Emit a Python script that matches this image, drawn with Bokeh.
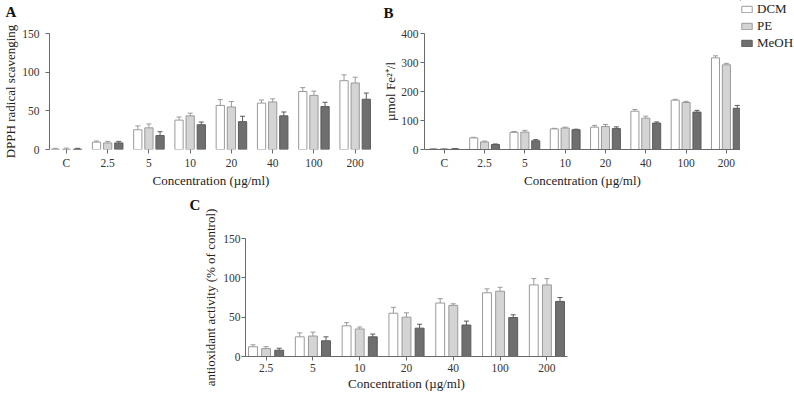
from bokeh.plotting import figure
from bokeh.layouts import column, row
from bokeh.models import (Range1d, FixedTicker, Whisker, ColumnDataSource, Legend,
                          LegendItem, Spacer, TeeHead)
from bokeh.core.properties import value
from bokeh.embed import file_html
from bokeh.resources import INLINE

# ---- data -------------------------------------------------------------
series = ["DCM", "PE", "MeOH"]

conc_ab = ["C", "2.5", "5", "10", "20", "40", "100", "200"]
conc_c = ["2.5", "5", "10", "20", "40", "100", "200"]

# A: DPPH radical scavenging
dpph_dcm = [0.5, 9.5, 25.5, 38, 57, 60, 75, 89]
dpph_pe = [0.3, 8.5, 28, 43.5, 55, 61.5, 70, 86]
dpph_meoh = [0.5, 8.5, 18, 32, 36, 43.5, 55.5, 65]
dpph_dcm_err = [1, 1.5, 5, 4, 7.5, 4, 5, 7.5]
dpph_pe_err = [1.5, 2, 5, 3.5, 7, 4, 5.5, 7.5]
dpph_meoh_err = [1, 2, 5, 3.5, 7, 5, 5.5, 8]

# B: reducing power, µmol Fe2+/l
fe_dcm = [2, 40, 59, 71, 77, 132, 170, 316]
fe_pe = [2, 26, 60, 74, 79, 108, 162, 292]
fe_meoh = [2, 17, 30, 68, 72, 91, 129, 142]
fe_dcm_err = [1, 2, 3, 2, 6, 6, 3, 7]
fe_pe_err = [1, 3, 6, 3, 7, 7, 4, 5]
fe_meoh_err = [1, 2, 4, 2, 6, 4, 6, 10]

# C: antioxidant activity (% of control)
act_dcm = [12.4, 25, 39, 55, 68, 81, 91]
act_pe = [10, 26, 35, 50, 65, 83, 91]
act_meoh = [8, 20, 25, 36, 40, 49.5, 70]
act_dcm_err = [2.5, 5, 4, 7.5, 5.5, 5, 8]
act_pe_err = [2.5, 5, 2.5, 5.5, 2, 5, 8]
act_meoh_err = [2.5, 5, 3.5, 5, 5, 3.5, 5]

# ---- styling ----------------------------------------------------------
FONT = "Liberation Serif"
FILLS = ["#ffffff", "#d4d4d4", "#6f6f6f"]
LINES = ["#9a9a9a", "#9a9a9a", "#5a5a5a"]
AXIS_COLOR = "#6a6a6a"


def bare(width, height):
    """A canvas with no axes whose data units are pixels (y grows downwards)."""
    p = figure(width=width, height=height, output_backend="svg", toolbar_location=None,
               x_range=Range1d(0, width), y_range=Range1d(height, 0),
               x_axis_location=None, y_axis_location=None,
               min_border_left=0, min_border_right=0, min_border_top=0,
               min_border_bottom=0, frame_align=False)
    p.outline_line_color = None
    p.grid.visible = False
    p.background_fill_color = None
    p.border_fill_color = None
    return p


def letter_strip(width, height, letter, x, y):
    p = bare(width, height)
    p.text(x=[x], y=[y], text=[letter], text_font=value(FONT), text_font_size="15px",
           text_font_style="bold", text_color="#111111", text_baseline="middle",
           text_align="left")
    return p


def panel(cats, data, errs, ymax, yticks, ylabel, width, height, borders,
          x_pad, offset, bar_w, y_standoffs, xaxis_line=True):
    left, right, top, bottom = borders
    n = len(cats)
    p = figure(width=width, height=height, output_backend="svg", toolbar_location=None,
               x_range=Range1d(-x_pad[0], n - 1 + x_pad[1]), y_range=Range1d(0, ymax),
               min_border_left=left, min_border_right=right,
               min_border_top=top, min_border_bottom=bottom, frame_align=False)
    p.outline_line_color = None
    p.grid.visible = False
    p.background_fill_color = None
    p.border_fill_color = None

    xs = list(range(n))
    for k, (vals, ev) in enumerate(zip(data, errs)):
        pos = [x + (k - 1) * offset for x in xs]
        src = ColumnDataSource(dict(x=pos, top=vals, up=[v + e for v, e in zip(vals, ev)]))
        p.vbar(x="x", top="top", width=bar_w, source=src, fill_color=FILLS[k],
               line_color=LINES[k], line_width=1)
        w = Whisker(base="x", lower="top", upper="up", source=src, dimension="height",
                    line_color=LINES[k], line_width=1,
                    upper_head=TeeHead(size=5, line_color=LINES[k], line_width=1),
                    lower_head=None)
        p.add_layout(w)

    for ax in (p.xaxis[0], p.yaxis[0]):
        ax.axis_line_color = AXIS_COLOR
        ax.major_tick_line_color = AXIS_COLOR
        ax.major_tick_out = 4
        ax.major_tick_in = 0
        ax.minor_tick_line_color = None
        ax.major_label_text_font = FONT
        ax.major_label_text_font_size = "11.5px"
        ax.major_label_text_color = "#333333"
        ax.axis_label_text_font = FONT
        ax.axis_label_text_font_size = "13px"
        ax.axis_label_text_font_style = "normal"
        ax.axis_label_text_color = "#222222"

    xa = p.xaxis[0]
    xa.ticker = FixedTicker(ticks=xs)
    xa.major_label_overrides = {i: c for i, c in enumerate(cats)}
    xa.major_label_standoff = 3
    xa.axis_label = "Concentration (µg/ml)"
    xa.axis_label_standoff = 1
    if not xaxis_line:
        xa.axis_line_color = None

    ya = p.yaxis[0]
    ya.ticker = FixedTicker(ticks=yticks)
    ya.axis_label = ylabel
    ya.major_label_standoff = y_standoffs[0]
    ya.axis_label_standoff = y_standoffs[1]
    return p


pA = panel(conc_ab, [dpph_dcm, dpph_pe, dpph_meoh],
           [dpph_dcm_err, dpph_pe_err, dpph_meoh_err],
           150, [0, 50, 100, 150], "DPPH radical scavenging",
           380, 170, (49, 8, 13, 40), (0.41, 0.42), 0.27, 0.2,
           (6, 1), xaxis_line=False)

pB = panel(conc_ab, [fe_dcm, fe_pe, fe_meoh],
           [fe_dcm_err, fe_pe_err, fe_meoh_err],
           400, [0, 100, 200, 300, 400], "µmol Fe²⁺/l",
           360, 170, (43, 0, 13, 40), (0.49, 0.35), 0.27, 0.2,
           (2, 0))

# series key, drawn in its own narrow canvas to the right of panel B;
# its swatch renderers hold a single bar placed outside the visible range
pKey = bare(54, 190)
key_renderers = [pKey.vbar(x=[-100.0], top=[0.0], width=1, fill_color=FILLS[k],
                           line_color=LINES[k], line_width=1) for k in range(3)]
legend = Legend(items=[LegendItem(label=s, renderers=[r])
                       for s, r in zip(series, key_renderers)],
                location="top_left", orientation="vertical",
                padding=0, margin=0, spacing=0, label_height=17,
                glyph_height=8, glyph_width=13, label_standoff=4,
                label_text_font=FONT, label_text_font_size="13px",
                label_text_color="#222222",
                border_line_color=None, background_fill_alpha=0)
pKey.add_layout(legend, "center")

pC = panel(conc_c, [act_dcm, act_pe, act_meoh],
           [act_dcm_err, act_pe_err, act_meoh_err],
           150, [0, 50, 100, 150], "antioxidant activity (% of control)",
           410, 212, (42, 43, 48, 46), (0.44, 0.44), 0.28, 0.19,
           (1, 2))

colA = column(letter_strip(380, 20, "A", 5, 11.5), pA)
colB = column(letter_strip(360, 20, "B", 3, 12), pB)
stripC = letter_strip(20, 212, "C", 9, 14.5)

page = column(row(colA, colB, pKey),
              row(Spacer(width=180, height=212), stripC, pC))

open("out.html", "w").write(file_html(page, INLINE))
